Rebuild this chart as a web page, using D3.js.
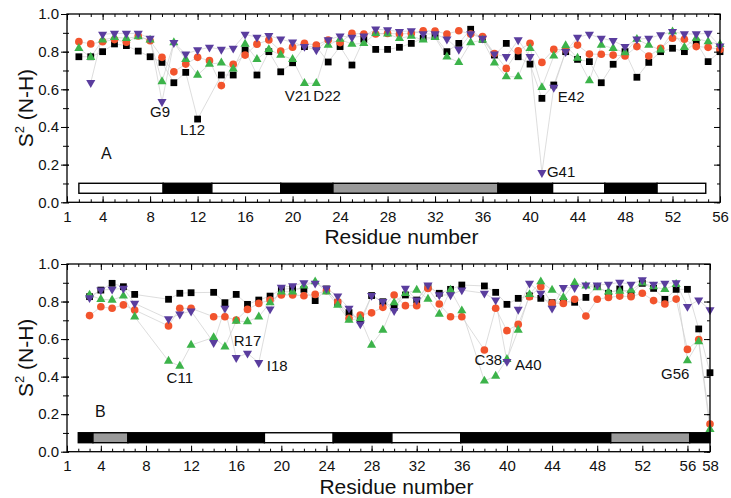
<!DOCTYPE html>
<html><head><meta charset="utf-8">
<script src="https://cdn.jsdelivr.net/npm/d3@7"></script>
<style>
body{margin:0;background:#fff}
text{font-family:"Liberation Sans",Arial,Helvetica,sans-serif;fill:#111}
</style>
</head><body>
<svg id="c" width="731" height="498"></svg>
<script>
// ---------------- DATA ----------------
// Panel A: residues 2..56
const resA = d3.range(2, 57);
const blackA  = [0.773,0.773,0.800,0.841,0.832,0.803,0.773,0.743,0.635,0.690,0.442,null,0.676,0.676,0.809,0.676,0.800,0.693,0.741,0.827,0.827,0.745,0.827,0.729,0.866,0.812,0.812,0.823,0.844,0.871,0.880,0.800,0.844,0.919,0.866,0.782,0.844,0.773,0.734,0.552,0.623,0.800,0.759,0.747,0.635,0.733,0.800,0.664,0.743,0.800,0.818,0.800,0.850,0.747,0.800];
const redA    = [0.853,0.841,0.853,0.864,0.850,0.883,0.858,0.770,0.693,0.734,0.770,0.752,0.620,0.733,0.782,0.840,0.862,0.803,0.824,0.844,0.835,0.862,0.848,0.897,0.894,0.894,0.897,0.894,0.897,0.911,0.909,0.894,0.911,0.894,0.880,0.790,0.711,0.805,0.844,0.743,0.812,0.810,0.835,0.787,0.786,0.782,0.777,0.827,0.777,0.818,0.871,0.866,0.827,0.823,0.812];
const greenA  = [0.818,0.770,0.862,0.876,0.871,0.880,0.862,0.641,0.848,0.759,0.676,0.734,0.741,0.708,0.840,0.759,0.812,0.782,0.759,0.632,0.632,0.835,0.866,0.840,0.844,0.897,0.894,0.871,0.883,0.862,0.876,0.773,0.743,0.848,0.862,0.741,0.667,0.667,0.818,0.610,0.777,0.832,0.766,0.646,0.835,0.818,0.795,0.866,0.835,0.809,0.906,0.823,0.871,0.853,0.839];
const purpleA = [null,0.635,0.892,0.897,0.897,0.897,0.871,0.534,0.848,0.787,0.809,0.823,0.812,0.818,0.892,0.876,0.885,0.866,0.850,0.827,0.809,0.862,0.883,0.876,0.883,0.919,0.915,0.906,0.911,0.894,0.894,0.866,0.812,0.894,0.871,0.787,0.773,0.862,0.773,0.157,0.610,0.800,0.876,0.892,0.871,0.858,0.827,0.866,0.871,0.889,0.906,0.894,0.894,0.897,0.830];

// Panel B: residues 3..58
const resB = d3.range(3, 59);
const blackB  = [0.826,0.861,0.897,0.879,0.838,null,null,0.812,0.844,0.847,null,0.849,0.794,0.838,0.785,0.808,0.829,0.865,0.870,0.865,0.805,0.867,0.794,0.741,0.700,0.832,0.799,0.769,0.835,0.808,0.880,0.844,0.865,0.888,null,0.883,0.849,0.785,0.817,0.830,0.817,0.794,0.800,0.796,0.822,0.880,0.844,0.867,0.840,0.897,0.870,0.812,0.865,0.865,0.654,0.421];
const redB    = [0.725,0.772,0.764,0.782,0.755,null,null,0.670,0.764,0.764,null,0.719,0.719,0.701,0.758,0.790,0.808,0.835,0.835,0.831,0.838,0.858,0.799,0.710,0.728,0.740,0.769,0.835,0.778,0.778,0.870,0.787,0.719,0.719,null,0.542,0.764,0.645,0.678,0.826,0.879,0.790,0.790,0.812,0.723,0.812,0.822,0.829,0.826,0.844,0.805,0.787,0.813,0.545,0.598,0.147];
const greenB  = [0.835,0.812,0.808,0.830,0.719,null,null,0.483,0.456,0.568,null,0.609,0.559,0.696,0.693,0.719,0.794,0.852,0.852,0.883,0.906,0.852,0.781,0.701,0.710,0.568,0.648,0.794,0.844,0.861,0.813,0.733,0.861,0.751,null,0.377,0.403,0.492,0.648,0.838,0.906,0.861,0.822,0.900,0.883,0.874,0.852,0.856,0.861,0.900,0.879,0.865,0.892,0.485,0.586,0.119];
const purpleB = [0.820,0.861,0.865,0.870,0.790,null,null,0.707,0.733,0.749,null,0.581,0.764,0.501,0.524,0.474,0.760,0.876,0.883,0.900,0.897,0.870,0.829,0.764,0.680,0.832,0.799,0.751,0.870,0.808,0.888,0.835,0.835,0.861,null,0.844,0.808,0.480,0.758,0.897,0.844,0.764,0.874,0.874,0.888,0.888,0.892,0.902,0.892,0.915,0.892,0.897,0.900,0.773,0.808,0.755];

// Secondary structure segments [start residue, end residue, kind]
const ssA = [[2,9.1,"coil"],[9.1,13.2,"strand"],[13.2,19,"coil"],[19,23.4,"strand"],[23.4,37.3,"helix"],[37.3,41.9,"strand"],[41.9,46.3,"coil"],[46.3,50.7,"strand"],[50.7,54.8,"coil"]];
const ssB = [[2,3.3,"strand"],[3.3,6.4,"helix"],[6.4,18.5,"strand"],[18.5,24.6,"coil"],[24.6,29.8,"strand"],[29.8,35.9,"coil"],[35.9,49.2,"strand"],[49.2,56.2,"helix"],[56.2,58,"strand"]];

// Annotations [residue, series, text]
const annA = [[9,"purple","G9"],[12,"black","L12"],[21,"green","V21"],[22,"green","D22"],[42,"purple","E42"],[41,"purple","G41"]];
const annB = [[11,"green","C11"],[17,"purple","R17"],[18,"purple","I18"],[38,"red","C38"],[40,"purple","A40"],[56,"green","G56"]];

const xTicksA = [1,4,8,12,16,20,24,28,32,36,40,44,48,52,56];
const xTicksB = [1,4,8,12,16,20,24,28,32,36,40,44,48,52,56,58];
const yTicks = [0,0.2,0.4,0.6,0.8,1.0];

// ---------------- STYLE ----------------
const colors = {black:"#000000", red:"#f2542d", green:"#3cb34a", purple:"#5a3d9e"};
const ssFill = {coil:"#ffffff", strand:"#000000", helix:"#9a9a9a"};
const annOffset = {
  G9:[-2,15.5,"middle"], L12:[-5,16,"middle"], V21:[7,18,"end"], D22:[-3,18,"start"],
  E42:[4,15,"start"], G41:[5,4.5,"start"],
  C11:[0,17,"middle"], R17:[0,-7,"middle"], I18:[8,8,"start"], C38:[4,15,"middle"],
  A40:[8,8.5,"start"], G56:[2,18.6,"end"]
};

const svg = d3.select("#c");

function panel(cfg){
  const x = d3.scaleLinear().domain(cfg.xDomain).range([cfg.left, cfg.right]);
  const y = d3.scaleLinear().domain([0,1]).range([cfg.bottom, cfg.top]);
  const g = svg.append("g");
  const series = {black:cfg.black, red:cfg.red, green:cfg.green, purple:cfg.purple};

  // secondary structure bar
  g.append("g").selectAll("rect").data(cfg.ss).join("rect")
    .attr("x", d=>x(d[0])).attr("width", d=>x(d[1])-x(d[0]))
    .attr("y", y(0.101)).attr("height", y(0.048)-y(0.101))
    .attr("fill", d=>ssFill[d[2]]).attr("stroke","#000").attr("stroke-width",1.4);

  // connecting lines
  const line = d3.line().x(p=>x(p[0])).y(p=>y(p[1]));
  Object.keys(series).forEach(k=>{
    const pts = cfg.res.map((r,i)=>[r, series[k][i]]).filter(p=>p[1]!=null);
    g.append("path").attr("d", line(pts)).attr("fill","none")
      .attr("stroke","#cfcfcf").attr("stroke-width",0.7);
  });

  // markers
  const sym = {
    black: d3.symbol(d3.symbolSquare, 46),
    red: d3.symbol(d3.symbolCircle, 46),
    green: d3.symbol(d3.symbolTriangle, 36),
    purple: d3.symbol(d3.symbolTriangle, 36)
  };
  ["black","red","green","purple"].forEach(k=>{
    const pts = cfg.res.map((r,i)=>[r, series[k][i]]).filter(p=>p[1]!=null);
    g.append("g").selectAll("path").data(pts).join("path")
      .attr("d", sym[k]())
      .attr("transform", p=>`translate(${x(p[0])},${y(p[1])})` + (k==="purple"?" rotate(180)":""))
      .attr("fill", colors[k]);
  });

  // frame
  g.append("rect").attr("x",cfg.left).attr("y",cfg.top)
    .attr("width",cfg.right-cfg.left).attr("height",cfg.bottom-cfg.top)
    .attr("fill","none").attr("stroke","#000").attr("stroke-width",1.3);

  const minorX = d3.range(cfg.xDomain[0], cfg.xDomain[1]+1);
  const minorY = d3.range(0, 11).map(i=>i/10);

  // bottom axis
  const gb = g.append("g").attr("transform",`translate(0,${cfg.bottom})`);
  gb.call(d3.axisBottom(x).tickValues(minorX).tickSize(-3).tickFormat(""));
  gb.append("g").call(d3.axisBottom(x).tickValues(cfg.xTicks).tickSize(-6).tickPadding(9).tickFormat(d3.format("d")));
  // top axis
  const gt = g.append("g").attr("transform",`translate(0,${cfg.top})`);
  gt.call(d3.axisTop(x).tickValues(minorX).tickSize(-3).tickFormat(""));
  gt.append("g").call(d3.axisTop(x).tickValues(cfg.xTicks).tickSize(-6).tickFormat(""));
  // left axis
  const gl = g.append("g").attr("transform",`translate(${cfg.left},0)`);
  gl.call(d3.axisLeft(y).tickValues(minorY).tickSize(4).tickFormat(""));
  gl.append("g").call(d3.axisLeft(y).tickValues(yTicks).tickSize(6).tickPadding(2).tickFormat(d3.format(".1f")));
  gl.selectAll(".tick line").attr("x1",2);
  // right axis
  const gr = g.append("g").attr("transform",`translate(${cfg.right},0)`);
  gr.call(d3.axisRight(y).tickValues(minorY).tickSize(-3).tickFormat(""));
  gr.append("g").call(d3.axisRight(y).tickValues(yTicks).tickSize(-6).tickFormat(""));

  g.selectAll(".domain").remove();
  g.selectAll(".tick line").attr("stroke","#000").attr("stroke-width",1);
  g.selectAll(".tick text").attr("font-size",15).attr("fill","#111")
    .style("font-family","'Liberation Sans',Arial,sans-serif");

  // annotations
  cfg.ann.forEach(a=>{
    const i = cfg.res.indexOf(a[0]);
    const v = series[a[1]][i];
    const o = annOffset[a[2]];
    g.append("text").attr("x", x(a[0])+o[0]).attr("y", y(v)+o[1])
      .attr("text-anchor", o[2]).attr("font-size",15).text(a[2]);
  });

  // panel letter
  g.append("text").attr("x",cfg.letterX).attr("y",cfg.letterY)
    .attr("font-size",16).text(cfg.letter);

  // x title
  g.append("text").attr("x",(cfg.left+cfg.right)/2+8).attr("y",cfg.bottom+42)
    .attr("text-anchor","middle").attr("font-size",21).text("Residue number");

  // y title
  const yt = g.append("text")
    .attr("transform",`translate(33,${(cfg.top+cfg.bottom)/2}) rotate(-90)`)
    .attr("text-anchor","middle").attr("font-size",21);
  yt.append("tspan").text("S");
  yt.append("tspan").attr("font-size",13).attr("dy",-9).text("2");
  yt.append("tspan").attr("dy",9).text(" (N-H)");
}

panel({res:resA, black:blackA, red:redA, green:greenA, purple:purpleA, ss:ssA, ann:annA,
  xDomain:[1,56], xTicks:xTicksA, left:67, right:720, top:14, bottom:202.3,
  letter:"A", letterX:101, letterY:159});
panel({res:resB, black:blackB, red:redB, green:greenB, purple:purpleB, ss:ssB, ann:annB,
  xDomain:[1,58], xTicks:xTicksB, left:67, right:710, top:264, bottom:451.7,
  letter:"B", letterX:95, letterY:417});
</script>
</body></html>
